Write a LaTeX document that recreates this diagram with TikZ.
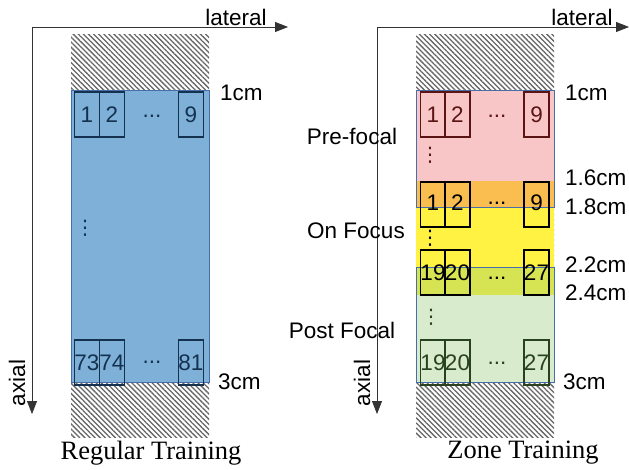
\documentclass[tikz,border=0pt]{standalone}
\usepackage{fontspec}
\setmainfont{Liberation Sans}
\newfontfamily\capfont{Liberation Serif}
\newfontfamily\symfont{DejaVu Sans}
\usetikzlibrary{patterns.meta,arrows.meta}
\definecolor{bluefill}{RGB}{126,176,216}
\definecolor{blueedge}{RGB}{70,110,170}
\definecolor{pinkfill}{RGB}{248,198,198}
\definecolor{orangefill}{RGB}{249,189,80}
\definecolor{yellowfill}{RGB}{255,242,66}
\definecolor{greenfill}{RGB}{216,236,205}
\definecolor{olivefill}{RGB}{214,228,84}
\definecolor{navy}{RGB}{20,50,80}
\definecolor{darkred}{RGB}{90,20,20}
\definecolor{darkgreen}{RGB}{40,65,30}
\begin{document}
\begin{tikzpicture}[x=1pt,y=-1pt,font=\fontsize{22.5}{26}\selectfont,
  cell/.style={draw,line width=1.6pt,minimum width=25pt,minimum height=45pt,inner sep=0pt,anchor=north},
  hatch/.style={pattern={Lines[angle=-45,distance=3.6pt,line width=1.3pt]},pattern color=black!60},
  axisline/.style={line width=0.8pt,draw=black!80,-{Triangle[length=13pt,width=10pt]}},
  lbl/.style={anchor=west,inner sep=0pt},
  dotsh/.style={inner sep=0pt},
  dotsv/.style={inner sep=0pt,font=\symfont\fontsize{20}{24}\selectfont},
  captxt/.style={inner sep=0pt,font=\capfont\fontsize{26.5}{30}\selectfont},
  zoneedge/.style={draw=blueedge,line width=0.8pt}]
\useasboundingbox (0,0) rectangle (629,470);
\fill[white] (0,0) rectangle (629,470);

% ---------------- Left panel ----------------
\fill[hatch] (71,35) rectangle (209,437);
\filldraw[fill=bluefill,zoneedge] (71,90) rectangle (209,382);

\coordinate (lo) at (32,27);
\coordinate (llat) at (288,27);
\coordinate (lax) at (32,414);
\draw[axisline] (lo) -- (llat);
\draw[axisline] (lo) -- (lax);
\node[inner sep=0pt] (llattxt) at (236,17) {lateral};
\node[inner sep=0pt,rotate=90] (laxtxt) at (17,383) {axial};

\begin{scope}[every node/.append style={draw=navy,text=navy}]
\node[cell] (L1) at (87,91) {1};
\node[cell] (L2) at (112,91) {2};
\node[cell] (L9) at (191,91) {9};
\node[cell] (L73) at (87,339) {73};
\node[cell] (L74) at (112,339) {74};
\node[cell] (L81) at (191,339) {81};
\end{scope}
\node[dotsh,text=navy] (Ld1) at (152,116) {...};
\node[dotsh,text=navy] (Ld2) at (152,362) {...};
\node[dotsv,text=navy] (Lv) at (85,228) {⋮};

\node[lbl] (L1cm) at (220,93) {1cm};
\node[lbl] (L3cm) at (218,382) {3cm};
\node[captxt] (Lcap) at (151,453) {Regular Training};

% ---------------- Right panel ----------------
\fill[hatch] (416,35) rectangle (554,437);
\fill[pinkfill] (416,90) rectangle (554,207);
\fill[yellowfill] (416,181) rectangle (554,295);
\fill[orangefill] (416,181) rectangle (554,207);
\fill[greenfill] (416,267) rectangle (554,382);
\fill[olivefill] (416,267) rectangle (554,295);
\draw[zoneedge] (416,90) rectangle (554,207);
\draw[zoneedge] (416,267) rectangle (554,382);

\coordinate (ro) at (377,27);
\coordinate (rlat) at (629,27);
\coordinate (rax) at (377,414);
\draw[axisline] (ro) -- (rlat);
\draw[axisline] (ro) -- (rax);
\node[inner sep=0pt] (rlattxt) at (582,17) {lateral};
\node[inner sep=0pt,rotate=90] (raxtxt) at (362,383) {axial};

\begin{scope}[every node/.append style={draw=darkred,text=darkred}]
\node[cell] (P1) at (433,91) {1};
\node[cell] (P2) at (457.5,91) {2};
\node[cell] (P9) at (536.5,91) {9};
\end{scope}
\begin{scope}[every node/.append style={draw=black,text=black}]
\node[cell] (F1) at (433,181) {\raisebox{4pt}{1}};
\node[cell] (F2) at (457.5,181) {\raisebox{4pt}{2}};
\node[cell] (F9) at (536.5,181) {\raisebox{4pt}{9}};
\node[cell] (F19) at (433,249) {19};
\node[cell] (F20) at (457.5,249) {20};
\node[cell] (F27) at (536.5,249) {27};
\end{scope}
\begin{scope}[every node/.append style={draw=darkgreen,text=darkgreen}]
\node[cell] (G19) at (433,339) {19};
\node[cell] (G20) at (457.5,339) {20};
\node[cell] (G27) at (536.5,339) {27};
\end{scope}
\node[dotsh,text=darkred] (Pd) at (497,116) {...};
\node[dotsh] (Fd1) at (497,203) {...};
\node[dotsh] (Fd2) at (497,278) {...};
\node[dotsh,text=darkgreen] (Gd) at (497,363) {...};
\node[dotsv,text=darkred] (Pv) at (430,155) {⋮};
\node[dotsv] (Fv) at (430,238) {⋮};
\node[dotsv,text=darkgreen] (Gv) at (431,317) {⋮};

\node[inner sep=0pt] (pre) at (352,136) {Pre-focal};
\node[inner sep=0pt] (onf) at (356,231) {On Focus};
\node[inner sep=0pt] (post) at (342,330) {Post Focal};

\node[lbl] (R1cm) at (565,93) {1cm};
\node[lbl] (R16) at (565,178) {1.6cm};
\node[lbl] (R18) at (565,207) {1.8cm};
\node[lbl] (R22) at (565,265) {2.2cm};
\node[lbl] (R24) at (565,293) {2.4cm};
\node[lbl] (R3cm) at (563,382) {3cm};
\node[captxt] (Rcap) at (523,453) {Zone Training};
\end{tikzpicture}
\end{document}
